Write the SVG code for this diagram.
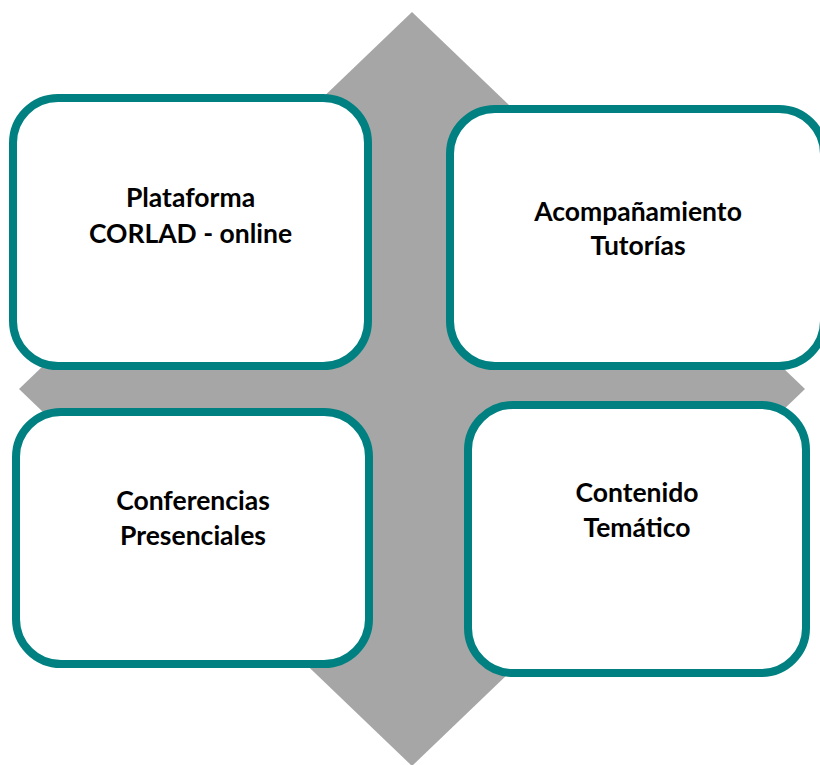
<svg xmlns="http://www.w3.org/2000/svg" width="820" height="765" viewBox="0 0 820 765">
<style>
.box{fill:#ffffff;stroke:#008080;stroke-width:8}
.lbl{font-family:Lato,"Open Sans","Liberation Sans",sans-serif;font-weight:bold;font-size:26.5px;fill:#000000;text-anchor:middle}
</style>
<rect width="820" height="765" fill="#ffffff"/>
<g id="diamond">
<polygon points="412,12 805,389 412,766 19,389" fill="#a6a6a6"/>
</g>
<g id="connectors"></g>
<g id="node-plataforma">
<rect class="box" x="13" y="98" width="355" height="268" rx="45" ry="45"/>
<text class="lbl" x="190.5" y="207">Plataforma</text>
<text class="lbl" x="190.5" y="243">CORLAD - online</text>
</g>
<g id="node-acompanamiento">
<rect class="box" x="450" y="109" width="374" height="257" rx="45" ry="45"/>
<text class="lbl" x="638" y="221">Acompañamiento</text>
<text class="lbl" x="638" y="255">Tutorías</text>
</g>
<g id="node-conferencias">
<rect class="box" x="16" y="412" width="353" height="252" rx="45" ry="45"/>
<text class="lbl" x="193" y="510">Conferencias</text>
<text class="lbl" x="193" y="545">Presenciales</text>
</g>
<g id="node-contenido">
<rect class="box" x="468" y="405" width="338" height="268" rx="45" ry="45"/>
<text class="lbl" x="637" y="502">Contenido</text>
<text class="lbl" x="637" y="537">Temático</text>
</g>
</svg>
